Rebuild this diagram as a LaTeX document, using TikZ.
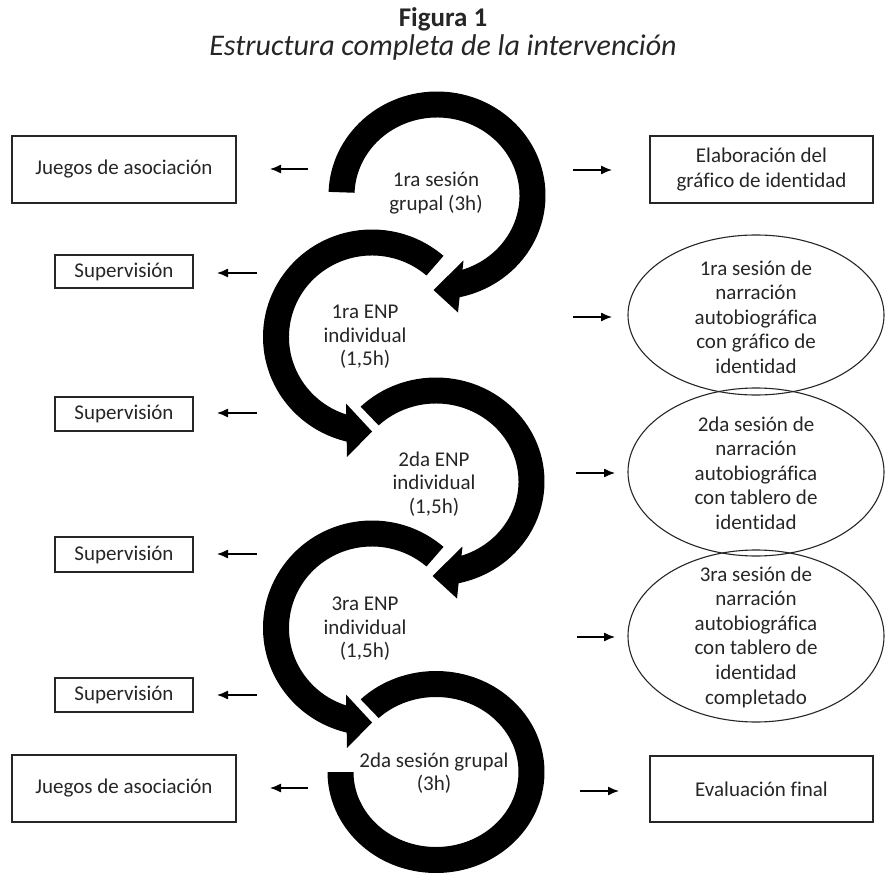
\documentclass[tikz,border=0pt]{standalone}
\usepackage{fontspec}
\setmainfont{Carlito}[Ligatures=NoCommon]
\usetikzlibrary{arrows.meta,shapes.geometric}

% body of a thick elliptical arc; screen coordinates (y down), screen angles (clockwise)
\newcommand{\ArcBody}[6]{%
  \pgfmathsetmacro{\aRxo}{#3+13}\pgfmathsetmacro{\aRyo}{#4+13}%
  \pgfmathsetmacro{\aRxi}{#3-13}\pgfmathsetmacro{\aRyi}{#4-13}%
  \pgfmathsetmacro{\aS}{-(#5)}\pgfmathsetmacro{\aE}{-(#6)}%
  \pgfmathsetmacro{\aPx}{#1+\aRxo*cos(\aS)}\pgfmathsetmacro{\aPy}{-(#2)+\aRyo*sin(\aS)}%
  \pgfmathsetmacro{\aQx}{#1+\aRxi*cos(\aE)}\pgfmathsetmacro{\aQy}{-(#2)+\aRyi*sin(\aE)}%
  \fill[arcfill] (\aPx,\aPy) arc[start angle=\aS, end angle=\aE, x radius=\aRxo, y radius=\aRyo]
    -- (\aQx,\aQy) arc[start angle=\aE, end angle=\aS, x radius=\aRxi, y radius=\aRyi] -- cycle;}

\tikzset{
  arcfill/.style={fill=black},
  txt/.style={text=black!85},
  box/.style={draw=black!85, line width=1.2pt, inner sep=0pt, align=center, text=black!85},
  oval/.style={draw=black!85, line width=1.1pt, ellipse, inner sep=0pt},
  arclabel/.style={align=center, text=black!85, font=\fontsize{21}{23.5}\selectfont},
  ovaltext/.style={align=center, text=black!85, font=\fontsize{21}{24.6}\selectfont},
  sidearrow/.style={line width=1.3pt, draw=black, -{Latex[length=11pt,width=9pt]}},
}

\begin{document}
\begin{tikzpicture}[x=1pt,y=1pt,font=\fontsize{21}{24.5}\selectfont]
\useasboundingbox (0,0) rectangle (886,-877);

% title
\node[anchor=base, txt, font=\fontsize{27}{30}\selectfont\bfseries] (fig) at (443,-27) {Figura 1};
\node[anchor=base, txt, font=\fontsize{30}{32}\selectfont\itshape] (tit) at (443,-56) {Estructura completa de la intervención};

% circular arrows
\ArcBody{437}{195.5}{95.5}{91}{182}{439}
\begin{scope}[shift={(437,-195.5)}]
  \fill[arcfill] (26.5,-65) -- (-3.5,-94.5) -- (21,-117) -- cycle;
\end{scope}
\ArcBody{372}{337}{96}{94.5}{-49}{-258}
\begin{scope}[shift={(372,-337)}]
  \fill[arcfill] (-26,-66.5) -- (0,-94.5) -- (-25,-120) -- cycle;
\end{scope}
\ArcBody{436}{481.5}{95.5}{91}{226}{439}
\begin{scope}[shift={(436,-481.5)}]
  \fill[arcfill] (26.5,-65) -- (-3.5,-94.5) -- (21,-117) -- cycle;
\end{scope}
\ArcBody{372}{628}{96}{94.5}{-49}{-258}
\begin{scope}[shift={(372,-628)}]
  \fill[arcfill] (-26,-66.5) -- (0,-94.5) -- (-25,-120) -- cycle;
\end{scope}
\ArcBody{436}{772}{95.5}{88}{226}{540}

% arc labels
\node[arclabel] (s1) at (436,-193) {1ra sesión\\grupal (3h)};
\node[arclabel] (s2) at (365,-337) {1ra ENP\\individual\\(1,5h)};
\node[arclabel] (s3) at (434,-484) {2da ENP\\individual\\(1,5h)};
\node[arclabel] (s4) at (365,-629) {3ra ENP\\individual\\(1,5h)};
\node[arclabel] (s5) at (434,-773) {2da sesión grupal\\(3h)};

% left boxes
\node[box, minimum width=224, minimum height=67] (jg1) at (124,-169.5) {Juegos de asociación};
\node[box, minimum width=138, minimum height=33] (sp1) at (124,-271.5) {Supervisión};
\node[box, minimum width=138, minimum height=34] (sp2) at (124,-414) {Supervisión};
\node[box, minimum width=138, minimum height=35] (sp3) at (124,-554.5) {Supervisión};
\node[box, minimum width=138, minimum height=34] (sp4) at (124,-695) {Supervisión};
\node[box, minimum width=224, minimum height=67] (jg2) at (124,-788.5) {Juegos de asociación};

% right boxes and ovals
\node[box, minimum width=223, minimum height=67] (elab) at (761.5,-169.5) {Elaboración del\\gráfico de identidad};
\node[oval, minimum width=256, minimum height=160] (e1) at (756,-315) {};
\node[ovaltext] (e1t) at (756,-317) {1ra sesión de\\narración\\autobiográfica\\con gráfico de\\identidad};
\node[oval, minimum width=256, minimum height=168] (e2) at (756,-472) {};
\node[ovaltext] (e2t) at (756,-473) {2da sesión de\\narración\\autobiográfica\\con tablero de\\identidad};
\node[oval, minimum width=256, minimum height=172] (e3) at (756,-636) {};
\node[ovaltext] (e3t) at (756,-637) {3ra sesión de\\narración\\autobiográfica\\con tablero de\\identidad\\completado};
\node[box, minimum width=223, minimum height=66] (eval) at (761.5,-789) {Evaluación final};

% side arrows (free-standing)
\coordinate (la1s) at (308,-169);  \coordinate (la1e) at (270,-169);
\coordinate (la2s) at (257,-273);  \coordinate (la2e) at (217,-273);
\coordinate (la3s) at (257,-413);  \coordinate (la3e) at (217,-413);
\coordinate (la4s) at (257,-554);  \coordinate (la4e) at (217,-554);
\coordinate (la5s) at (257,-695);  \coordinate (la5e) at (217,-695);
\coordinate (la6s) at (308,-788);  \coordinate (la6e) at (270,-788);
\coordinate (ra1s) at (573,-170);  \coordinate (ra1e) at (612,-170);
\coordinate (ra2s) at (573,-317);  \coordinate (ra2e) at (612,-317);
\coordinate (ra3s) at (576,-473);  \coordinate (ra3e) at (615,-473);
\coordinate (ra4s) at (577,-637);  \coordinate (ra4e) at (615,-637);
\coordinate (ra5s) at (580,-791);  \coordinate (ra5e) at (619,-791);
\foreach \a in {la1,la2,la3,la4,la5,la6,ra1,ra2,ra3,ra4,ra5}{
  \draw[sidearrow] (\a s) -- (\a e);
}
\end{tikzpicture}
\end{document}
